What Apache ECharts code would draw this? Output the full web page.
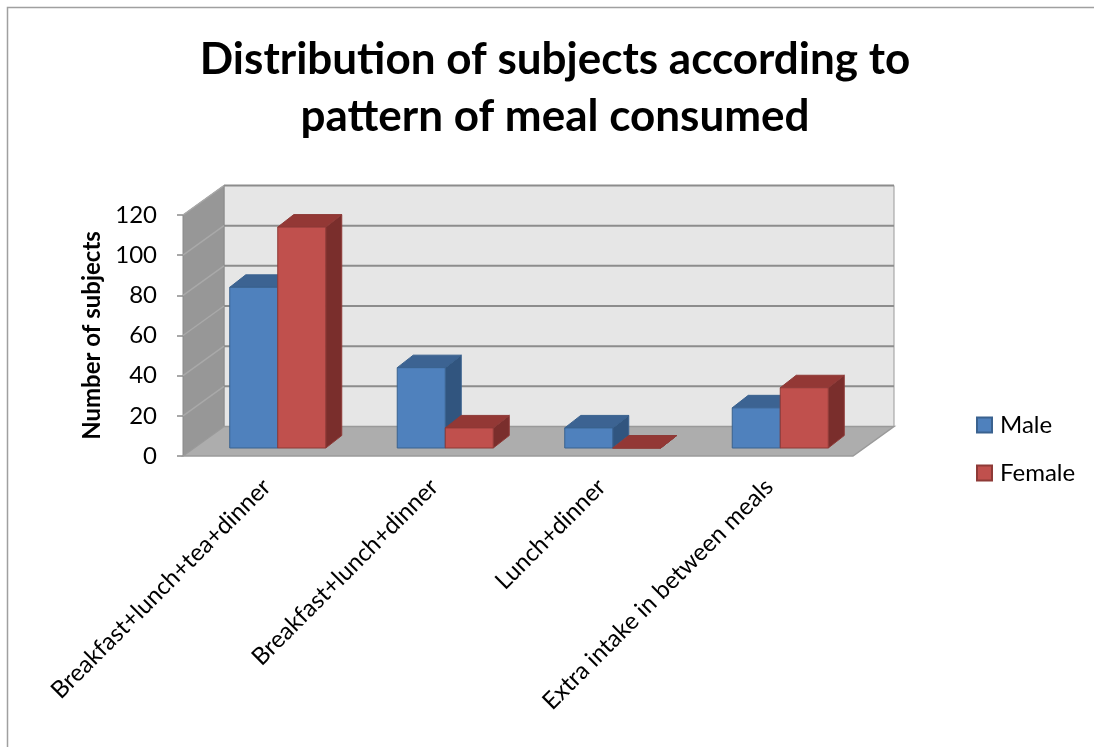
<!DOCTYPE html>
<html><head><meta charset="utf-8">
<script src="https://cdn.jsdelivr.net/npm/echarts@6/dist/echarts.min.js"></script>
<style>html,body{margin:0;padding:0;background:#fff}#c{width:1094px;height:747px}</style>
</head><body><div id="c"></div>
<script>
const categories = ['Breakfast+lunch+tea+dinner', 'Breakfast+lunch+dinner', 'Lunch+dinner', 'Extra intake in between meals'];
const maleValues = [80, 40, 10, 20];
const femaleValues = [110, 10, 0, 30];
const yTicks = [0, 20, 40, 60, 80, 100, 120];
const seriesNames = ['Male', 'Female'];
const titleText = 'Distribution of subjects according to\npattern of meal consumed';
const yAxisName = 'Number of subjects';

const FONT = 'Lato';
const WALL = [41, -29.5];
const BAR_DEPTH = [16, -12.5];
const BAR_FRAC = 0.2866;
const MALE_COL = {front: '#4F81BD', top: '#3C6392', side: '#31557F', edge: '#3A628F'};
const FEMALE_COL = {front: '#C0504D', top: '#933835', side: '#7A2E2C', edge: '#8E3A37'};

const chart = echarts.init(document.getElementById('c'), null, {renderer: 'canvas'});

function wallsRender(params, api) {
  const cs = params.coordSys;
  const x = cs.x, y = cs.y, w = cs.width, h = cs.height;
  const wx = WALL[0], wy = WALL[1];
  const yb = y + h;
  const ch = [];
  ch.push({type: 'polygon', shape: {points: [[x + wx, y + wy], [x + w + wx, y + wy], [x + w + wx, yb + wy], [x + wx, yb + wy]]},
    style: {fill: '#E6E6E6', stroke: '#9A9A9A', lineWidth: 1}});
  ch.push({type: 'polygon', shape: {points: [[x, yb], [x, y], [x + wx, y + wy], [x + wx, yb + wy]]},
    style: {fill: '#979797', stroke: '#8A8A8A', lineWidth: 1}});
  yTicks.forEach(function (v) {
    if (v === 0) return;
    const yy = api.coord([0, v])[1];
    ch.push({type: 'line', shape: {x1: x + wx, y1: yy + wy, x2: x + w + wx, y2: yy + wy}, style: {stroke: '#8C8C8C', lineWidth: 2}});
    ch.push({type: 'line', shape: {x1: x, y1: yy, x2: x + wx, y2: yy + wy}, style: {stroke: '#A9A9A9', lineWidth: 1.5}});
  });
  ch.push({type: 'polygon', shape: {points: [[x, yb], [x + w, yb], [x + w + wx, yb + wy], [x + wx, yb + wy]]},
    style: {fill: '#ADADAD', stroke: '#9A9A9A', lineWidth: 1.5}});
  return {type: 'group', children: ch};
}

function barRender(sideIdx, col) {
  return function (params, api) {
    const cat = api.value(0), val = api.value(1);
    const b = api.coord([cat, 0]);
    const t = api.coord([cat, val]);
    const band = params.coordSys.width / categories.length;
    const bw = band * BAR_FRAC;
    const x0 = sideIdx === 0 ? b[0] - bw : b[0];
    const x1 = x0 + bw;
    const y0 = b[1], y1 = t[1];
    const dx = BAR_DEPTH[0], dy = BAR_DEPTH[1];
    return {type: 'group', children: [
      {type: 'polygon', shape: {points: [[x1, y0], [x1 + dx, y0 + dy], [x1 + dx, y1 + dy], [x1, y1]]}, style: {fill: col.side, stroke: col.edge, lineWidth: 1}},
      {type: 'polygon', shape: {points: [[x0, y1], [x1, y1], [x1 + dx, y1 + dy], [x0 + dx, y1 + dy]]}, style: {fill: col.top, stroke: col.edge, lineWidth: 1}},
      {type: 'rect', shape: {x: x0, y: y1, width: bw, height: y0 - y1}, style: {fill: col.front, stroke: col.edge, lineWidth: 1}}
    ]};
  };
}

const option = {
  animation: false,
  backgroundColor: '#ffffff',
  title: {
    text: titleText, left: 555, top: 31, padding: 0, textAlign: 'center',
    textStyle: {fontFamily: FONT, fontWeight: 'bold', fontSize: 44, lineHeight: 57, color: '#000'}
  },
  legend: {
    data: seriesNames, orient: 'vertical', left: 976, top: 413, itemGap: 24, padding: 0,
    itemWidth: 15, itemHeight: 15, icon: 'rect',
    textStyle: {fontFamily: FONT, fontSize: 24, lineHeight: 24, color: '#000', padding: [0, 0, 0, 3]}
  },
  grid: [
    {left: 183, top: 215, width: 670, height: 241, containLabel: false},
    {left: 194, top: 207, width: 670, height: 241, containLabel: false}
  ],
  xAxis: [
    {type: 'category', gridIndex: 0, data: categories,
      axisLine: {show: false}, axisTick: {show: false}, splitLine: {show: false},
      axisLabel: {rotate: 45, margin: 27, interval: 0, fontFamily: FONT, fontSize: 24, color: '#000'}},
    {type: 'category', gridIndex: 1, data: categories, show: false}
  ],
  yAxis: [
    {type: 'value', gridIndex: 0, min: 0, max: 120, interval: 20,
      name: yAxisName, nameLocation: 'middle', nameGap: 78, nameRotate: 90,
      nameTextStyle: {fontFamily: FONT, fontWeight: 'bold', fontSize: 24, color: '#000'},
      axisLine: {show: true, lineStyle: {color: '#8C8C8C', width: 1}},
      axisTick: {show: true, length: 6, lineStyle: {color: '#8C8C8C', width: 1.5}},
      axisLabel: {margin: 26, fontFamily: FONT, fontSize: 24, color: '#000'},
      splitLine: {show: false}},
    {type: 'value', gridIndex: 1, min: 0, max: 120, interval: 20, show: false, splitLine: {show: false}}
  ],
  graphic: [
    {type: 'polyline', shape: {points: [[7.5, 760], [7.5, 7.5], [1100, 7.5]]}, style: {fill: 'none', stroke: '#A0A0A0', lineWidth: 1.5}, silent: true, z: -10}
  ],
  series: [
    {type: 'custom', name: 'walls', xAxisIndex: 0, yAxisIndex: 0, silent: true, data: [[0, 0]], renderItem: wallsRender, z: 1},
    {type: 'custom', name: seriesNames[0], xAxisIndex: 1, yAxisIndex: 1, z: 2,
      itemStyle: {color: MALE_COL.front, borderColor: MALE_COL.edge, borderWidth: 1},
      data: maleValues.map(function (v, i) { return [i, v]; }), renderItem: barRender(0, MALE_COL)},
    {type: 'custom', name: seriesNames[1], xAxisIndex: 1, yAxisIndex: 1, z: 2,
      itemStyle: {color: FEMALE_COL.front, borderColor: FEMALE_COL.edge, borderWidth: 1},
      data: femaleValues.map(function (v, i) { return [i, v]; }), renderItem: barRender(1, FEMALE_COL)}
  ]
};
chart.setOption(option);
</script>
</body></html>
